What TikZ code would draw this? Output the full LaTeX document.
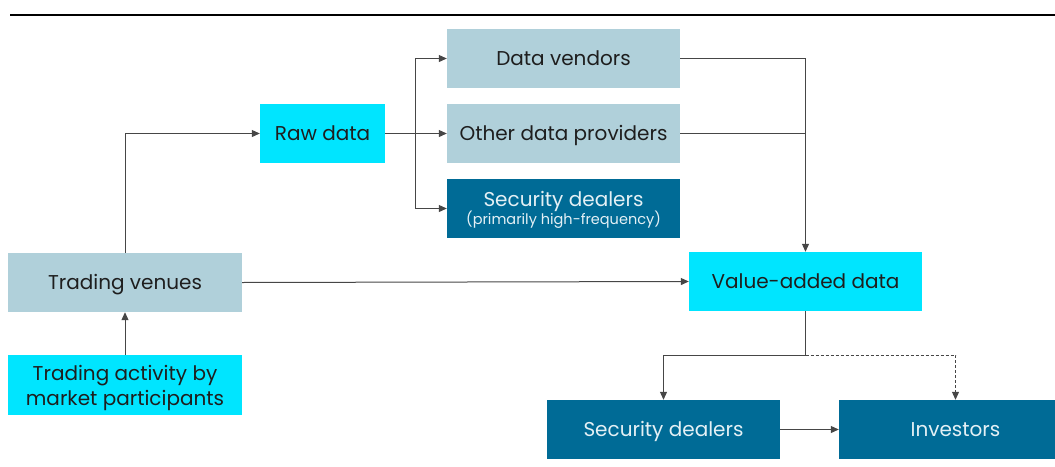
\documentclass[tikz,border=0pt]{standalone}
\usepackage{fontspec}
\setmainfont{Poppins}
\usetikzlibrary{arrows.meta}
\definecolor{paleblue}{RGB}{176,208,218}
\definecolor{brightcyan}{RGB}{0,229,255}
\definecolor{deepteal}{RGB}{0,107,150}
\definecolor{wire}{RGB}{70,70,70}
\definecolor{darktext}{RGB}{30,30,30}
\definecolor{lighttext}{RGB}{228,240,245}
\begin{document}
\begin{tikzpicture}[x=1pt,y=-1pt,
  box/.style={inner sep=0pt, minimum width=233pt, minimum height=59pt,
    align=center, font=\fontsize{20}{22}\selectfont,
    text height=14pt, text depth=0pt},
  pale/.style={box, fill=paleblue, text=darktext},
  cyanbox/.style={box, fill=brightcyan, text=darktext},
  tealbox/.style={box, fill=deepteal, text=lighttext},
  conn/.style={draw=wire, line width=1pt},
  arrowed/.style={conn, -{Triangle[length=8pt,width=7pt]}}]
\useasboundingbox (0,0) rectangle (1055,466);
\clip (0,0) rectangle (1055,466);

% heading rule
\draw[line width=2.5pt] (10,15) -- (1055,15);

% boxes
\node[pale] (dv) at (563.5,58.5) {Data vendors};
\node[pale] (odp) at (563.5,133.5) {Other data providers};
\node[tealbox, text height=31pt] (sdh) at (563.5,208.5)
  {Security dealers\\[-4.5pt]{\fontsize{14.5}{16}\selectfont(primarily high-frequency)}};
\node[cyanbox, minimum width=125pt] (raw) at (322.5,133.5) {Raw data};
\node[pale, minimum width=234pt] (tv) at (125,282.5) {Trading venues};
\node[cyanbox, minimum width=234pt, minimum height=60pt, text height=41.4pt] (ta) at (125,385)
  {Trading activity by\\[3.7pt]market participants};
\node[cyanbox] (vad) at (805.5,281.5) {Value-added data};
\node[tealbox] (sdb) at (663.5,429.5) {Security dealers};
\node[tealbox] (inv) at (955.5,429.5) {Investors};

% junction points
\coordinate (split) at (415.7,133.5);
\coordinate (fork) at (805.5,355.3);

% connectors
\draw[arrowed] (ta.north) -- (tv.south);
\draw[arrowed] (tv.north) |- (raw.west);
\draw[conn] (raw.east) -- (split);
\draw[arrowed] (split) |- (dv.west);
\draw[arrowed] (split) -- (odp.west);
\draw[arrowed] (split) |- (sdh.west);
\draw[arrowed] (dv.east) -| (vad.north);
\draw[conn] (odp.east) -- (odp.east -| vad.north);
\draw[arrowed] (tv.east) -- (vad.west);
\draw[conn] (vad.south) -- (fork);
\draw[arrowed] (fork) -| (sdb.north);
\draw[arrowed, dash pattern=on 3pt off 2pt] (fork) -| (inv.north);
\draw[arrowed] (sdb.east) -- (inv.west);
\end{tikzpicture}
\end{document}
